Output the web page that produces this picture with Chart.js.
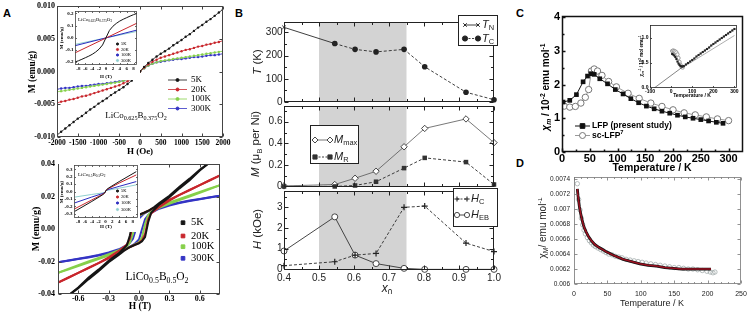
<!DOCTYPE html>
<html><head><meta charset="utf-8">
<script src="https://cdn.jsdelivr.net/npm/chart.js@4.4.1/dist/chart.umd.min.js"></script>
<style>
html,body{margin:0;padding:0;background:#fff}
body{position:relative;width:749px;height:314px;overflow:hidden}
canvas{position:absolute}
.pl{position:absolute;font:bold 11px "Liberation Sans",Arial,sans-serif;color:#000;line-height:1}
</style></head><body>
<div class="pl" style="left:3px;top:8px">A</div>
<div class="pl" style="left:235px;top:8px">B</div>
<div class="pl" style="left:516px;top:8px">C</div>
<div class="pl" style="left:516px;top:158px">D</div>
<script>
// ================= DATA =================
// ---- Panel A (top): LiCo0.625B0.375O2, M (emu/g) vs H (Oe) ----
const aTemps = ['5K', '20K', '100K', '300K'];
const aH = [-2000,-1900,-1800,-1700,-1600,-1500,-1400,-1300,-1200,-1100,-1000,-900,-800,-700,-600,-500,-400,-300,-200,-100,0,100,200,300,400,500,600,700,800,900,1000,1100,1200,1300,1400,1500,1600,1700,1800,1900,2000];
const aM5K   = [-0.0097,-0.0092,-0.0087,-0.0082,-0.0077,-0.0072,-0.0068,-0.0063,-0.0058,-0.0054,-0.0049,-0.0045,-0.0041,-0.0036,-0.0032,-0.0028,-0.0024,-0.0019,-0.0014,-0.0008,0,0.0007,0.0013,0.0018,0.0023,0.0027,0.0031,0.0035,0.0040,0.0044,0.0048,0.0053,0.0057,0.0062,0.0067,0.0071,0.0076,0.0080,0.0085,0.0090,0.0095];
const aM20K  = [-0.0048,-0.0046,-0.0045,-0.0043,-0.0042,-0.0040,-0.0038,-0.0037,-0.0035,-0.0033,-0.0031,-0.0029,-0.0027,-0.0025,-0.0023,-0.0021,-0.0018,-0.0015,-0.0011,-0.0006,0,0.0006,0.0011,0.0015,0.0018,0.0021,0.0023,0.0025,0.0027,0.0029,0.0031,0.0033,0.0034,0.0036,0.0038,0.0039,0.0041,0.0042,0.0044,0.0045,0.0047];
const aM100K = [-0.0031,-0.0030,-0.0029,-0.0028,-0.0027,-0.0026,-0.0025,-0.0024,-0.0023,-0.0022,-0.0021,-0.0020,-0.0019,-0.0018,-0.0017,-0.0016,-0.0014,-0.0012,-0.0009,-0.0005,0,0.0005,0.0009,0.0012,0.0014,0.0016,0.0017,0.0018,0.0019,0.0020,0.0021,0.0022,0.0023,0.0024,0.0025,0.0026,0.0027,0.0028,0.0029,0.0030,0.0031];
const aM300K = [-0.0027,-0.0026,-0.0025,-0.0025,-0.0024,-0.0023,-0.0022,-0.0022,-0.0021,-0.0020,-0.0019,-0.0019,-0.0018,-0.0017,-0.0016,-0.0015,-0.0014,-0.0012,-0.0009,-0.0005,0,0.0005,0.0009,0.0012,0.0014,0.0015,0.0016,0.0017,0.0018,0.0019,0.0019,0.0020,0.0021,0.0022,0.0022,0.0023,0.0024,0.0025,0.0025,0.0026,0.0027];
const aXTicks = [-2000,-1500,-1000,-500,0,500,1000,1500,2000];
const aYTicks = [-0.010,-0.005,0,0.005,0.010];
// inset (top): M vs H (T)
const aiHc = [-9,-8,-7,-6,-5,-4,-3,-2,-1,0,1,2,3,4,5,6,7,8,9];
const aiM5K = [-0.2,-0.19,-0.178,-0.165,-0.152,-0.137,-0.118,-0.094,-0.06,0,0.06,0.094,0.118,0.137,0.152,0.165,0.178,0.19,0.2];
const aiHl = [-9, 9];
const aiM20K = [-0.125, 0.12];
const aiM100K = [-0.066, 0.063];
const aiM300K = [-0.055, 0.052];
const aiXTicks = [-8,-6,-4,-2,0,2,4,6,8];
const aiYTicks = [-0.2,-0.1,0,0.1,0.2];

// ---- Panel A (bottom): LiCo0.5B0.5O2 hysteresis loops, M (emu/g) vs H (T) ----
const bUpH = [0.8,0.7,0.6,0.5,0.4,0.3,0.2,0.15,0.1,0.05,0,-0.03,-0.06,-0.09,-0.12,-0.2,-0.3,-0.4,-0.5,-0.6,-0.7,-0.8];
const bLoH = [-0.8,-0.7,-0.6,-0.5,-0.4,-0.3,-0.2,-0.15,-0.1,-0.05,0,0.03,0.06,0.09,0.12,0.2,0.3,0.4,0.5,0.6,0.7,0.8];
const b5Up   = [0.046,0.041,0.0365,0.031,0.026,0.0205,0.016,0.0135,0.0115,0.0100,0.0088,0.0075,0.0050,-0.0040,-0.0100,-0.0150,-0.0195,-0.0250,-0.0300,-0.0360,-0.0410,-0.0460];
const b5Lo   = [-0.046,-0.041,-0.0365,-0.031,-0.026,-0.0205,-0.016,-0.0135,-0.0115,-0.0100,-0.0088,-0.0075,-0.0050,0.0040,0.0100,0.0150,0.0195,0.0250,0.0300,0.0360,0.0410,0.0460];
const b20Up  = [0.033,0.030,0.027,0.024,0.021,0.018,0.0150,0.0132,0.0115,0.0100,0.0085,0.0070,0.0030,-0.0060,-0.0095,-0.0135,-0.0175,-0.0210,-0.0240,-0.0270,-0.0300,-0.0330];
const b20Lo  = [-0.033,-0.030,-0.027,-0.024,-0.021,-0.018,-0.0150,-0.0132,-0.0115,-0.0100,-0.0085,-0.0070,-0.0030,0.0060,0.0095,0.0135,0.0175,0.0210,0.0240,0.0270,0.0300,0.0330];
const b100Up = [0.027,0.025,0.0228,0.0206,0.0185,0.0163,0.0140,0.0128,0.0115,0.0098,0.0080,0.0050,-0.0030,-0.0085,-0.0105,-0.0130,-0.0155,-0.0178,-0.0200,-0.0223,-0.0245,-0.0270];
const b100Lo = [-0.027,-0.025,-0.0228,-0.0206,-0.0185,-0.0163,-0.0140,-0.0128,-0.0115,-0.0098,-0.0080,-0.0050,0.0030,0.0085,0.0105,0.0130,0.0155,0.0178,0.0200,0.0223,0.0245,0.0270];
const b300Up = [0.0205,0.0195,0.0185,0.0175,0.0163,0.0150,0.0135,0.0125,0.0112,0.0095,0.0065,0.0000,-0.0060,-0.0085,-0.0100,-0.0125,-0.0145,-0.0160,-0.0172,-0.0183,-0.0194,-0.0205];
const b300Lo = [-0.0205,-0.0195,-0.0185,-0.0175,-0.0163,-0.0150,-0.0135,-0.0125,-0.0112,-0.0095,-0.0065,0.0000,0.0060,0.0085,0.0100,0.0125,0.0145,0.0160,0.0172,0.0183,0.0194,0.0205];
const bXTicks = [-0.6,-0.3,0,0.3,0.6];
const bYTicks = [-0.04,-0.02,0,0.02,0.04];
// inset (bottom)
const biH = [-9,-4,-1,-0.3,0.3,1,4,9];
const biM5K   = [-0.27,-0.135,-0.05,-0.025,0.025,0.05,0.135,0.27];
const biM20K  = [-0.235,-0.115,-0.042,-0.022,0.022,0.042,0.115,0.225];
const biM100K = [-0.155,-0.075,-0.03,-0.018,0.018,0.03,0.07,0.135];
const biM300K = [-0.076,-0.04,-0.02,-0.012,0.012,0.02,0.045,0.09];
const biYTicks = [-0.3,-0.2,-0.1,0,0.1,0.2,0.3];

// ---- Panel B: vs x0 ----
const bx = [0.4,0.545,0.603,0.663,0.743,0.802,0.92,1.0];
const bxTN = [0.4,0.545];
const bTN = [322,252];
const bxTC = [0.545,0.603,0.663,0.743,0.802,0.92,1.0];
const bTC = [252,227,216,227,152,42,10];
const bMmax = [0.005,0.018,0.076,0.141,0.368,0.538,0.626,0.406];
const bMR   = [0.0,0.0,0.009,0.044,0.17,0.265,0.226,0.018];
const bHC   = [0.18,0.37,0.69,0.77,3.0,3.06,1.27,0.86];
const bHEB  = [0.89,2.54,0.69,0.28,0.05,0.0,0.0,0.0];
const bShade = [0.5, 0.75];
const bxTicks = [0.4,0.5,0.6,0.7,0.8,0.9,1.0];
const bxMinor = [0.45,0.55,0.65,0.75,0.85,0.95];
const bTTicks = [0,100,200,300], bTMinor = [50,150,250];
const bMTicks = [0,0.2,0.4,0.6], bMMinor = [0.1,0.3,0.5,0.7];
const bHTicks = [0,1,2,3], bHMinor = [0.5,1.5,2.5,3.5];

// ---- Panel C: chi_m (10^-2 emu/mol) vs T ----
const cT_LFP = [2,14,26,38,46,52,58,68,82,96,110,124,138,152,166,180,194,208,222,236,250,264,278,290];
const cChi_LFP = [1.48,1.53,1.70,2.08,2.25,2.32,2.30,2.17,2.02,1.85,1.72,1.58,1.46,1.36,1.28,1.21,1.15,1.09,1.04,1.00,0.96,0.92,0.88,0.85];
const cT_sc = [4,14,24,34,42,48,53,58,64,72,84,98,119,139,160,180,200,220,240,260,280,300];
const cChi_sc = [1.36,1.33,1.35,1.45,1.62,1.85,2.40,2.46,2.40,2.27,2.09,1.93,1.74,1.59,1.45,1.35,1.25,1.16,1.10,1.04,0.98,0.93];
const cXTicks = [0,50,100,150,200,250,300], cXMinor = [25,75,125,175,225,275];
const cYTicks = [0,1,2,3,4], cYMinor = [0.5,1.5,2.5,3.5];
const cSeries = ['LFP (present study)', 'sc-LFP'];
// inset: inverse susceptibility (10^2 mol/emu)
const ciT_LFP = [5,10,15,20,25,30,35,40,45,50,55,60,70,80,90,100,110,120,130,140,150,160,170,180,190,200,210,220,230,240,250,260,270,280,290,300];
const ciInv_LFP = [0.68,0.67,0.65,0.62,0.58,0.53,0.49,0.46,0.44,0.43,0.43,0.44,0.47,0.50,0.53,0.56,0.59,0.63,0.66,0.69,0.72,0.75,0.78,0.81,0.85,0.88,0.91,0.94,0.97,1.00,1.03,1.06,1.09,1.12,1.15,1.18];
const ciT_sc = [5,10,15,20,25,30,35,40,45,50,55];
const ciInv_sc = [0.74,0.75,0.74,0.73,0.71,0.67,0.60,0.52,0.46,0.42,0.41];
const ciFitT = [-80,300], ciFitInv = [0,1.19];
const ciScLineT = [55,300], ciScLineInv = [0.41,1.05];
const ciXTicks = [-100,0,100,200,300], ciYTicks = [0,0.5,1.0];

// ---- Panel D: chi_M (emu/mol) vs T ----
const dT = [5,7,9,11,13,15,17,20,23,26,29,32,36,40,44,48,52,57,62,67,72,78,84,90,96,102,108,115,122,129,136,143,150,157,164,171,178,185,192,199,204,208,211];
const dChi = [0.00734,0.00713,0.00699,0.00688,0.00679,0.00672,0.00667,0.00662,0.00658,0.00655,0.00652,0.0065,0.00648,0.00646,0.00644,0.00642,0.0064,0.00639,0.00637,0.00636,0.00635,0.00633,0.00632,0.00631,0.0063,0.00629,0.00628,0.00627,0.00626,0.00625,0.00624,0.00623,0.00622,0.00622,0.00621,0.0062,0.0062,0.00619,0.00618,0.00617,0.00616,0.00615,0.00616];
const dFitT = [5,6,8,10,12,14,16,18.5,22,26,31,37,43,48.5,60,73.5,86,98.5,111,123.5,136,148.5,161,173.5,186,198,205];
const dFitChi = [0.00727,0.00718,0.00704,0.00694,0.00686,0.00679,0.00674,0.00669,0.00663,0.00658,0.00653,0.00649,0.00646,0.00643,0.00638,0.00633,0.0063,0.00627,0.00625,0.00624,0.00622,0.00621,0.0062,0.0062,0.0062,0.0062,0.0062];
const dXTicks = [0,50,100,150,200,250];
const dXMinor = [10,20,30,40,60,70,80,90,110,120,130,140,160,170,180,190,210,220,230,240];
const dYTicks = [0.006,0.0062,0.0064,0.0066,0.0068,0.007,0.0072,0.0074];

// ================= DRAWING =================
const SERIF = '"Liberation Serif","Times New Roman",serif';
const SANS = '"Liberation Sans",Arial,sans-serif';
const P = (xs, ys) => xs.map((x, i) => ({x, y: ys[i]}));

function drawMarker(ctx, m, x, y) {
  const r = m.r;
  ctx.save();
  ctx.lineWidth = m.lw == null ? 1 : m.lw;
  ctx.strokeStyle = m.stroke || '#000';
  ctx.fillStyle = m.fill || 'rgba(0,0,0,0)';
  ctx.beginPath();
  let fillable = true;
  switch (m.style) {
    case 'rect': { const s = r * Math.SQRT1_2; ctx.rect(x - s, y - s, 2 * s, 2 * s); break; }
    case 'rectRot': ctx.moveTo(x, y - r); ctx.lineTo(x + r, y); ctx.lineTo(x, y + r); ctx.lineTo(x - r, y); ctx.closePath(); break;
    case 'cross': ctx.moveTo(x - r, y); ctx.lineTo(x + r, y); ctx.moveTo(x, y - r); ctx.lineTo(x, y + r); fillable = false; break;
    case 'crossRot': { const s = r * Math.SQRT1_2; ctx.moveTo(x - s, y - s); ctx.lineTo(x + s, y + s); ctx.moveTo(x - s, y + s); ctx.lineTo(x + s, y - s); fillable = false; break; }
    default: ctx.arc(x, y, r, 0, Math.PI * 2);
  }
  if (fillable && m.fill) ctx.fill();
  if (ctx.lineWidth > 0) ctx.stroke();
  ctx.restore();
}

function drawRich(ctx, it, ox, oy) {
  ctx.save();
  ctx.translate(it.x - ox, it.y - oy);
  if (it.rot) ctx.rotate(it.rot * Math.PI / 180);
  const base = it.size, fam = it.family || SANS, wt = it.bold ? 'bold ' : '';
  const segs = it.segs.map(s => typeof s === 'string' ? {t: s} : Object.assign({}, s));
  let w = 0;
  for (const s of segs) {
    const sz = (s.sub || s.sup) ? base * 0.68 : base;
    s.f = (s.it ? 'italic ' : '') + wt + sz + 'px ' + fam;
    ctx.font = s.f; s.w = ctx.measureText(s.t).width; w += s.w;
  }
  let x = it.align === 'left' ? 0 : it.align === 'right' ? -w : -w / 2;
  ctx.textBaseline = 'middle'; ctx.textAlign = 'left'; ctx.fillStyle = it.color || '#000';
  for (const s of segs) {
    ctx.font = s.f;
    ctx.fillText(s.t, x, s.sub ? base * 0.3 : s.sup ? -base * 0.33 : 0);
    x += s.w;
  }
  ctx.restore();
}

function axis(a, horiz, size) {
  return {
    type: 'linear', position: horiz ? 'bottom' : 'left', min: a.min, max: a.max,
    afterBuildTicks: s => { s.ticks = a.ticks.map(v => ({value: v})); },
    afterFit: s => {
      if (horiz) s.height = size; else s.width = size;
      s.paddingLeft = 0; s.paddingRight = 0; s.paddingTop = 0; s.paddingBottom = 0;
    },
    grid: {display: false, drawTicks: false},
    border: {display: false},
    ticks: {
      display: a.show !== false, autoSkip: false, maxRotation: 0, minRotation: 0,
      padding: a.pad == null ? 2 : a.pad, color: a.color || '#000', font: a.font,
      callback: v => a.fmt ? a.fmt(v) : String(v)
    }
  };
}

function panel(p) {
  const L = p.plot.l - p.m.l, T = p.plot.t - p.m.t;
  const W = p.plot.r - p.plot.l + p.m.l + p.m.r;
  const H = p.plot.b - p.plot.t + p.m.t + p.m.b;
  const c = document.createElement('canvas');
  c.width = W; c.height = H;
  c.style.left = L + 'px'; c.style.top = T + 'px'; c.style.width = W + 'px'; c.style.height = H + 'px';
  document.body.appendChild(c);
  const deco = {
    id: 'deco',
    beforeDraw(ch) {
      if (p.bg) { const x = ch.ctx; x.save(); x.fillStyle = p.bg; x.fillRect(0, 0, W, H); x.restore(); }
    },
    beforeDatasetsDraw(ch) {
      if (!p.shade) return;
      const ctx = ch.ctx, a = ch.chartArea, xs = ch.scales.x;
      const x1 = xs.getPixelForValue(p.shade.range[0]), x2 = xs.getPixelForValue(p.shade.range[1]);
      ctx.save(); ctx.fillStyle = p.shade.color; ctx.fillRect(x1, a.top, x2 - x1, a.bottom - a.top); ctx.restore();
    },
    afterDatasetsDraw(ch) {
      const f = p.frame; if (!f) return;
      const ctx = ch.ctx, a = ch.chartArea, xs = ch.scales.x, ys = ch.scales.y;
      ctx.save(); ctx.strokeStyle = f.color || '#000'; ctx.lineWidth = f.lw || 1;
      const l = Math.round(a.left) + 0.5, t = Math.round(a.top) + 0.5, r = Math.round(a.right) - 0.5, b = Math.round(a.bottom) - 0.5;
      ctx.strokeRect(l, t, r - l, b - t);
      ctx.beginPath();
      const tx = (vals, len) => (vals || []).forEach(v => {
        const px = Math.round(xs.getPixelForValue(v)) + 0.5;
        if (px < l - 1 || px > r + 1) return;
        ctx.moveTo(px, b); ctx.lineTo(px, b - len);
        if (f.mirror) { ctx.moveTo(px, t); ctx.lineTo(px, t + len); }
      });
      const ty = (vals, len) => (vals || []).forEach(v => {
        const py = Math.round(ys.getPixelForValue(v)) + 0.5;
        if (py < t - 1 || py > b + 1) return;
        ctx.moveTo(l, py); ctx.lineTo(l + len, py);
        if (f.mirror) { ctx.moveTo(r, py); ctx.lineTo(r - len, py); }
      });
      tx(p.x.ticks, f.len); tx(f.xMinor, f.minorLen || f.len);
      ty(p.y.ticks, f.len); ty(f.yMinor, f.minorLen || f.len);
      ctx.stroke(); ctx.restore();
    },
    afterDraw(ch) {
      const ctx = ch.ctx;
      (p.boxes || []).forEach(bx => {
        ctx.save(); ctx.fillStyle = '#fff'; ctx.strokeStyle = bx.color || '#222'; ctx.lineWidth = 1;
        ctx.fillRect(bx.l - L, bx.t - T, bx.r - bx.l, bx.b - bx.t);
        ctx.strokeRect(bx.l - L + 0.5, bx.t - T + 0.5, bx.r - bx.l - 1, bx.b - bx.t - 1);
        ctx.restore();
      });
      (p.samples || []).forEach(s => {
        if (s.lw) {
          ctx.save(); ctx.strokeStyle = s.color; ctx.lineWidth = s.lw; ctx.setLineDash(s.dash || []);
          ctx.beginPath(); ctx.moveTo(s.x1 - L, s.y - T); ctx.lineTo(s.x2 - L, s.y - T); ctx.stroke(); ctx.restore();
        }
        (s.mx || []).forEach(mx => drawMarker(ctx, s.marker, mx - L, s.y - T));
      });
      (p.texts || []).forEach(it => drawRich(ctx, it, L, T));
    }
  };
  new Chart(c, {
    type: 'scatter',
    data: {datasets: p.datasets},
    options: {
      responsive: false, animation: false, devicePixelRatio: 1, events: [],
      layout: {padding: {left: 0, top: p.m.t, right: p.m.r, bottom: 0}},
      plugins: {legend: {display: false}, tooltip: {enabled: false}},
      scales: {x: axis(p.x, true, p.m.b), y: axis(p.y, false, p.m.l)}
    },
    plugins: [deco]
  });
}

function lineDS(data, color, o) {
  return Object.assign({data, showLine: true, borderColor: color, backgroundColor: color, borderWidth: 1,
    pointRadius: 0, pointHoverRadius: 0, tension: 0, fill: false}, o || {});
}

const cA = ['#151515', '#c8262c', '#86d04a', '#3434c4'];
const cAi = ['#151515', '#c8262c', '#2a2ac0', '#8fcfcf'];
const fSerB = (s) => ({family: SERIF, size: s, weight: 'bold'});
const fSans = (s, b) => ({family: SANS, size: s, weight: b ? 'bold' : 'normal'});
const sub = t => ({t, sub: 1});

// ---------- A top ----------
(function () {
  const series = [aM5K, aM20K, aM100K, aM300K];
  const rows = [80, 89.5, 99, 108.5];
  panel({
    plot: {l: 57, t: 6, r: 223, b: 137}, m: {l: 32, t: 5, r: 12, b: 20},
    x: {min: -2000, max: 2000, ticks: aXTicks, fmt: v => String(v), font: fSerB(7.5), pad: 1.5},
    y: {min: -0.010, max: 0.010, ticks: aYTicks, fmt: v => v.toFixed(3), font: fSerB(8), pad: 2},
    frame: {color: '#444', lw: 1, len: 3, mirror: true},
    datasets: series.map((s, i) => lineDS(P(aH, s), cA[i], {borderWidth: 0.8, pointRadius: 1.2, pointBorderWidth: 0, pointBackgroundColor: cA[i]})),
    samples: series.map((s, i) => ({x1: 168, x2: 187, y: rows[i], color: cA[i], lw: 0.8, marker: {style: 'circle', r: 1.5, fill: cA[i], stroke: cA[i], lw: 0}, mx: [177.5]})),
    texts: [
      {x: 33, y: 72, rot: -90, segs: ['M (emu/g)'], size: 9.5, family: SERIF, bold: true},
      {x: 140, y: 152, segs: ['H (Oe)'], size: 9, family: SERIF, bold: true},
      {x: 136, y: 116, segs: ['LiCo', sub('0.625'), 'B', sub('0.375'), 'O', sub('2')], size: 9, family: SERIF},
      ...aTemps.map((t, i) => ({x: 191, y: rows[i], segs: [t], size: 9, family: SERIF, align: 'left'}))
    ]
  });
})();
// ---------- A top inset ----------
(function () {
  const rows = [44, 49.5, 55, 60.5];
  panel({
    plot: {l: 75, t: 11, r: 137, b: 65}, m: {l: 17, t: 3, r: 3, b: 15}, bg: '#fff',
    x: {min: -9, max: 9, ticks: aiXTicks, fmt: v => String(v), font: fSerB(5), pad: 0.5},
    y: {min: -0.225, max: 0.22, ticks: aiYTicks, fmt: v => v.toFixed(1), font: fSerB(5), pad: 1.5},
    frame: {color: '#444', lw: 0.8, len: 1.5, mirror: true},
    datasets: [
      lineDS(P(aiHc, aiM5K), cAi[0], {borderWidth: 1}),
      lineDS(P(aiHl, aiM20K), cAi[1], {borderWidth: 1}),
      lineDS(P(aiHl, aiM100K), cAi[2], {borderWidth: 1}),
      lineDS(P(aiHl, aiM300K), cAi[3], {borderWidth: 1})
    ],
    samples: rows.map((y, i) => ({y, marker: {style: 'circle', r: 1.1, fill: cAi[i], stroke: cAi[i], lw: 0}, mx: [117.5]})),
    texts: [
      {x: 61.5, y: 38, rot: -90, segs: ['M (emu/g)'], size: 5, family: SERIF, bold: true},
      {x: 106, y: 76.5, segs: ['H (T)'], size: 5, family: SERIF, bold: true},
      {x: 78, y: 20, segs: ['LiCo', sub('0.625'), 'B', sub('0.375'), 'O', sub('2')], size: 5, family: SERIF, align: 'left'},
      ...aTemps.map((t, i) => ({x: 121, y: rows[i], segs: [t], size: 4.5, family: SERIF, align: 'left'}))
    ]
  });
})();
// ---------- A bottom ----------
(function () {
  const up = [b5Up, b20Up, b100Up, b300Up], lo = [b5Lo, b20Lo, b100Lo, b300Lo];
  const ds = [];
  for (let i = 0; i < 4; i++) {
    ds.push(lineDS(P(bUpH, up[i]), cA[i], {borderWidth: 2}));
    ds.push(lineDS(P(bLoH, lo[i]), cA[i], {borderWidth: 2}));
  }
  const rows = [222.7, 236, 246.7, 258.3];
  panel({
    plot: {l: 58, t: 164, r: 220, b: 294}, m: {l: 33, t: 5, r: 12, b: 19},
    x: {min: -0.8, max: 0.8, ticks: bXTicks, fmt: v => v.toFixed(1), font: fSerB(8), pad: 0.5},
    y: {min: -0.04, max: 0.04, ticks: bYTicks, fmt: v => v.toFixed(2), font: fSerB(8), pad: 3},
    frame: {color: '#444', lw: 1, len: 3, mirror: true},
    datasets: ds,
    samples: rows.map((y, i) => ({y, marker: {style: 'rect', r: 2.6, fill: cA[i], stroke: cA[i], lw: 0}, mx: [183]})),
    texts: [
      {x: 36, y: 229, rot: -90, segs: ['M (emu/g)'], size: 10, family: SERIF, bold: true},
      {x: 140, y: 307, segs: ['H (T)'], size: 9.5, family: SERIF, bold: true},
      {x: 157, y: 277, segs: ['LiCo', sub('0.5'), 'B', sub('0.5'), 'O', sub('2')], size: 11.5, family: SERIF},
      ...aTemps.map((t, i) => ({x: 191, y: rows[i], segs: [t], size: 10.5, family: SERIF, align: 'left'}))
    ]
  });
})();
// ---------- A bottom inset ----------
(function () {
  const rows = [191, 197, 203, 209.5];
  const series = [biM5K, biM20K, biM100K, biM300K];
  panel({
    plot: {l: 74, t: 165, r: 138, b: 218}, m: {l: 15, t: 3, r: 2, b: 14}, bg: '#fff',
    x: {min: -9.2, max: 9.5, ticks: aiXTicks, fmt: v => String(v), font: fSerB(5), pad: 1},
    y: {min: -0.36, max: 0.36, ticks: biYTicks, fmt: v => v.toFixed(1), font: fSerB(5), pad: 1.5},
    frame: {color: '#444', lw: 0.8, len: 1.5, mirror: true},
    datasets: series.map((s, i) => lineDS(P(biH, s), cAi[i], {borderWidth: 1})),
    samples: rows.map((y, i) => ({y, marker: {style: 'circle', r: 1.1, fill: cAi[i], stroke: cAi[i], lw: 0}, mx: [117.5]})),
    texts: [
      {x: 62, y: 192, rot: -90, segs: ['M (emu/g)'], size: 5, family: SERIF, bold: true},
      {x: 106, y: 227, segs: ['H (T)'], size: 5, family: SERIF, bold: true},
      {x: 78, y: 175, segs: ['LiCo', sub('0.5'), 'B', sub('0.5'), 'O', sub('2')], size: 5, family: SERIF, align: 'left'},
      ...aTemps.map((t, i) => ({x: 121, y: rows[i], segs: [t], size: 4.5, family: SERIF, align: 'left'}))
    ]
  });
})();

// ---------- B ----------
const bCol = '#2a2a2a';
const bxAxis = (show) => ({min: 0.4, max: 1.0, ticks: bxTicks, fmt: v => v.toFixed(1), font: fSans(10), pad: 2.5, show, color: '#222'});
const bFrame = (yMinor) => ({color: '#222', lw: 1, len: 4, minorLen: 2.5, mirror: true, xMinor: bxMinor, yMinor});
const bShadeCfg = {range: bShade, color: '#d3d3d3'};
// top: T
panel({
  plot: {l: 284, t: 22, r: 494, b: 102}, m: {l: 38, t: 9, r: 5, b: 6},
  x: bxAxis(false),
  y: {min: 0, max: 345, ticks: bTTicks, fmt: v => String(v), font: fSans(10), pad: 1.5, color: '#222'},
  frame: bFrame(bTMinor), shade: bShadeCfg,
  datasets: [
    lineDS(P(bxTN, bTN), bCol, {borderWidth: 0.9, pointRadius: 2.5, pointStyle: 'crossRot', pointBorderColor: bCol, pointBorderWidth: 1, clip: false}),
    lineDS(P(bxTC, bTC), bCol, {borderWidth: 0.9, borderDash: [3, 2], pointRadius: 2.8, pointStyle: 'circle', pointBackgroundColor: '#222', pointBorderColor: '#222', pointBorderWidth: 0, clip: false})
  ],
  boxes: [{l: 458, t: 15, r: 498, b: 46}],
  samples: [
    {x1: 465, x2: 478, y: 25, color: bCol, lw: 0.9, marker: {style: 'crossRot', r: 2.5, stroke: bCol, lw: 1}, mx: [465, 478]},
    {x1: 465, x2: 478, y: 38.5, color: bCol, lw: 0.9, dash: [2, 1.5], marker: {style: 'circle', r: 2.6, fill: '#222', stroke: '#222', lw: 0}, mx: [465, 478]}
  ],
  texts: [
    {x: 258, y: 62, rot: -90, segs: [{t: 'T', it: 1}, ' (K)'], size: 11.5, color: '#222'},
    {x: 482, y: 25, segs: [{t: 'T', it: 1}, sub('N')], size: 11, align: 'left', color: '#222'},
    {x: 482, y: 38.5, segs: [{t: 'T', it: 1}, sub('C')], size: 11, align: 'left', color: '#222'}
  ]
});
// middle: M
panel({
  plot: {l: 284, t: 102, r: 494, b: 187}, m: {l: 38, t: 0, r: 5, b: 6},
  x: bxAxis(false),
  y: {min: -0.005, max: 0.745, ticks: bMTicks, fmt: v => v === 0 ? '0' : v.toFixed(1), font: fSans(10), pad: 1.5, color: '#222'},
  frame: bFrame(bMMinor), shade: bShadeCfg,
  datasets: [
    lineDS(P(bx, bMR), bCol, {borderWidth: 0.9, borderDash: [3, 2], pointRadius: 3.2, pointStyle: 'rect', pointBackgroundColor: '#333', pointBorderColor: '#333', pointBorderWidth: 0, clip: false}),
    lineDS(P(bx, bMmax), '#555', {borderWidth: 0.8, pointRadius: 3.2, pointStyle: 'rectRot', pointBackgroundColor: '#fff', pointBorderColor: '#333', pointBorderWidth: 0.9, clip: false})
  ],
  boxes: [{l: 310, t: 125, r: 359, b: 164}],
  samples: [
    {x1: 315, x2: 330, y: 140, color: '#555', lw: 0.8, marker: {style: 'rectRot', r: 3, fill: '#fff', stroke: '#333', lw: 0.9}, mx: [315, 330]},
    {x1: 315, x2: 330, y: 157, color: bCol, lw: 0.9, dash: [2, 1.5], marker: {style: 'rect', r: 3, fill: '#333', stroke: '#333', lw: 0}, mx: [315, 330]}
  ],
  texts: [
    {x: 256, y: 144, rot: -90, segs: [{t: 'M', it: 1}, ' (μ', sub('B'), ' per Ni)'], size: 11.5, color: '#222'},
    {x: 334, y: 140, segs: [{t: 'M', it: 1}, sub('max')], size: 11, align: 'left', color: '#222'},
    {x: 334, y: 157, segs: [{t: 'M', it: 1}, sub('R')], size: 11, align: 'left', color: '#222'}
  ]
});
// bottom: H
panel({
  plot: {l: 284, t: 187, r: 494, b: 270}, m: {l: 38, t: 0, r: 9, b: 24},
  x: bxAxis(true),
  y: {min: -0.03, max: 3.78, ticks: bHTicks, fmt: v => String(v), font: fSans(10), pad: 1.5, color: '#222'},
  frame: bFrame(bHMinor), shade: bShadeCfg,
  datasets: [
    lineDS(P(bx, bHC), bCol, {borderWidth: 0.9, borderDash: [3, 2], pointRadius: 3, pointStyle: 'cross', pointBorderColor: '#222', pointBorderWidth: 1.2, clip: false}),
    lineDS(P(bx, bHEB), '#333', {borderWidth: 0.9, pointRadius: 3, pointStyle: 'circle', pointBackgroundColor: '#fff', pointBorderColor: '#333', pointBorderWidth: 0.9, clip: false})
  ],
  boxes: [{l: 453, t: 188, r: 498, b: 227}],
  samples: [
    {x1: 457, x2: 467, y: 199, color: bCol, lw: 0.9, dash: [2, 1.5], marker: {style: 'cross', r: 2.6, stroke: '#222', lw: 1.1}, mx: [457, 467]},
    {x1: 457, x2: 467, y: 215, color: '#333', lw: 0.9, marker: {style: 'circle', r: 2.6, fill: '#fff', stroke: '#333', lw: 0.9}, mx: [457, 467]}
  ],
  texts: [
    {x: 258, y: 229, rot: -90, segs: [{t: 'H', it: 1}, ' (kOe)'], size: 11.5, color: '#222'},
    {x: 387, y: 289, segs: [{t: 'x', it: 1}, sub('0')], size: 12, color: '#222'},
    {x: 471, y: 199, segs: [{t: 'H', it: 1}, sub('C')], size: 11, align: 'left', color: '#222'},
    {x: 471, y: 215, segs: [{t: 'H', it: 1}, sub('EB')], size: 11, align: 'left', color: '#222'}
  ]
});

// ---------- C ----------
panel({
  plot: {l: 562, t: 16, r: 743, b: 152}, m: {l: 22, t: 7, r: 5, b: 21},
  x: {min: 0, max: 326, ticks: cXTicks, fmt: v => String(v), font: fSans(11, true), pad: 0},
  y: {min: 0, max: 4.03, ticks: cYTicks, fmt: v => String(v), font: fSans(11, true), pad: 2},
  frame: {color: '#111', lw: 1.5, len: 3, minorLen: 2, mirror: false, xMinor: cXMinor, yMinor: cYMinor},
  datasets: [
    lineDS(P(cT_LFP, cChi_LFP), '#111', {borderWidth: 1, pointRadius: 3.3, pointStyle: 'rect', pointBackgroundColor: '#111', pointBorderColor: '#111', pointBorderWidth: 0}),
    lineDS(P(cT_sc, cChi_sc), '#999', {borderWidth: 1, pointRadius: 3.2, pointStyle: 'circle', pointBackgroundColor: '#fff', pointBorderColor: '#777', pointBorderWidth: 1})
  ],
  samples: [
    {x1: 575, x2: 590, y: 126, color: '#111', lw: 1, marker: {style: 'rect', r: 3.3, fill: '#111', stroke: '#111', lw: 0}, mx: [582.5]},
    {x1: 575, x2: 590, y: 135.5, color: '#999', lw: 1, marker: {style: 'circle', r: 3, fill: '#fff', stroke: '#777', lw: 1}, mx: [582.5]}
  ],
  texts: [
    {x: 546, y: 87, rot: -90, segs: [{t: 'χ', it: 1}, {t: 'm', sub: 1, it: 1}, ' / 10', {t: '-2', sup: 1}, ' emu mol', {t: '-1', sup: 1}], size: 10, bold: true},
    {x: 652, y: 168, segs: ['Temperature / K'], size: 10.5, bold: true},
    {x: 592, y: 126, segs: [cSeries[0]], size: 8.5, bold: true, align: 'left'},
    {x: 592, y: 135.5, segs: [cSeries[1], {t: '7', sup: 1}], size: 8.5, bold: true, align: 'left'}
  ]
});
// C inset
panel({
  plot: {l: 650, t: 25, r: 737, b: 88}, m: {l: 17, t: 3, r: 3, b: 12},
  x: {min: -100, max: 312, ticks: ciXTicks, fmt: v => String(v), font: fSans(5, true), pad: 0.5},
  y: {min: 0, max: 1.26, ticks: ciYTicks, fmt: v => v.toFixed(1), font: fSans(5, true), pad: 1.5},
  frame: {color: '#222', lw: 0.8, len: 1.5, mirror: false},
  datasets: [
    lineDS(P(ciFitT, ciFitInv), '#333', {borderWidth: 0.6}),
    lineDS(P(ciT_LFP, ciInv_LFP), '#222', {showLine: false, pointRadius: 1.5, pointStyle: 'rect', pointBackgroundColor: '#222', pointBorderWidth: 0}),
    lineDS(P(ciScLineT, ciScLineInv), '#999', {borderWidth: 0.8}),
    lineDS(P(ciT_sc, ciInv_sc), '#999', {showLine: false, pointRadius: 1.7, pointStyle: 'circle', pointBackgroundColor: '#fff', pointBorderColor: '#888', pointBorderWidth: 0.8})
  ],
  texts: [
    {x: 641.5, y: 56, rot: -90, segs: [{t: 'χ', it: 1}, sub('m'), {t: '-1', sup: 1}, ' / 10', {t: '2', sup: 1}, ' mol emu', {t: '-1', sup: 1}], size: 4.5, bold: true},
    {x: 692, y: 96, segs: ['Temperature / K'], size: 5, bold: true}
  ]
});

// ---------- D ----------
panel({
  plot: {l: 574, t: 177, r: 741, b: 284}, m: {l: 36, t: 3, r: 7, b: 25},
  x: {min: 0, max: 250, ticks: dXTicks, fmt: v => String(v), font: fSans(7), pad: 6, color: '#222'},
  y: {min: 0.006, max: 0.00743, ticks: dYTicks, fmt: v => String(parseFloat(v.toFixed(4))), font: fSans(6.5), pad: 4, color: '#222'},
  frame: {color: '#777', lw: 0.8, len: 3, minorLen: 1.5, mirror: true, xMinor: dXMinor},
  datasets: [
    lineDS(P(dFitT, dFitChi), '#9c1020', {borderWidth: 1.5}),
    lineDS(P(dFitT, dFitChi), '#111', {borderWidth: 2.8}),
    lineDS(P(dT, dChi), '#9aa3a3', {showLine: false, pointRadius: 2.2, pointStyle: 'circle', pointBackgroundColor: 'rgba(255,255,255,0)', pointBorderColor: '#9aa3a3', pointBorderWidth: 0.7})
  ],
  texts: [
    {x: 543, y: 228, rot: -90, segs: ['χ', sub('M'), '/ emu mol', {t: '-1', sup: 1}], size: 10, color: '#222'},
    {x: 652, y: 304, segs: ['Temperature / K'], size: 9, color: '#222'}
  ]
});
</script></body></html>
